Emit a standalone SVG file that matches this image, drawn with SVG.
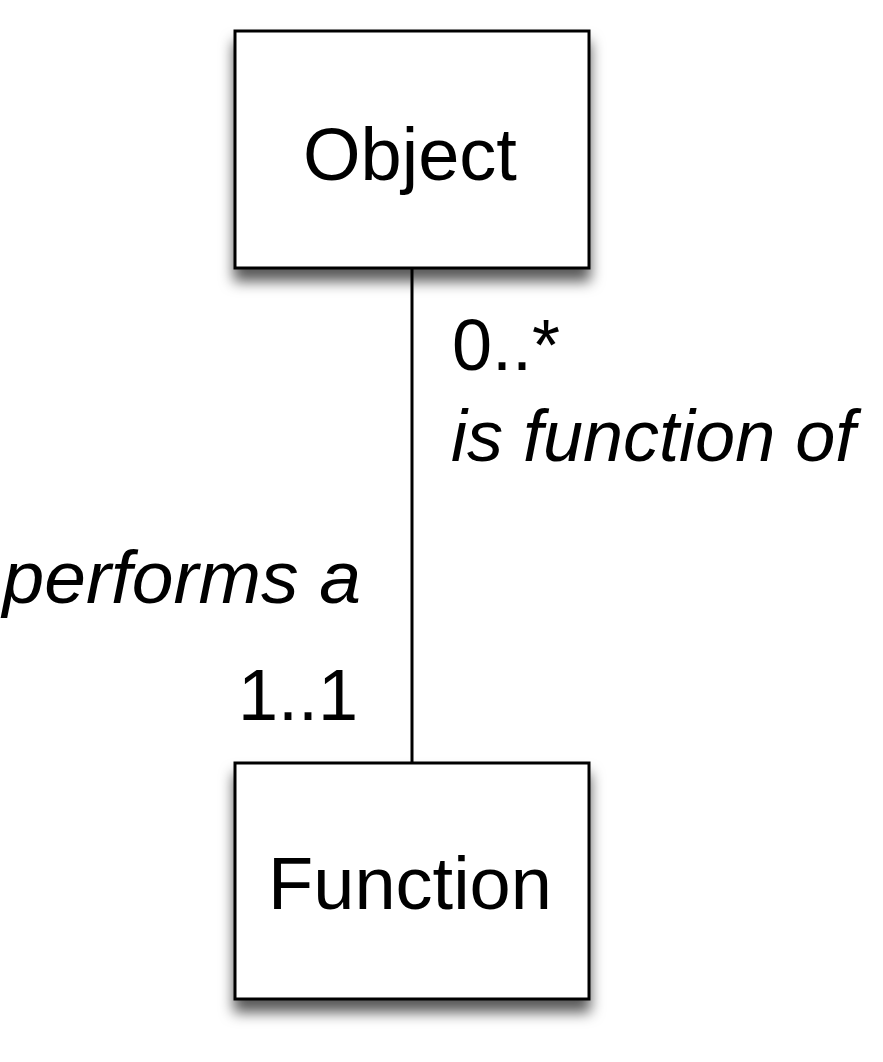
<svg xmlns="http://www.w3.org/2000/svg" width="883" height="1062" viewBox="0 0 883 1062">
<defs>
<filter id="sh" x="-20%" y="-20%" width="140%" height="150%">
<feDropShadow dx="0" dy="12" stdDeviation="7" flood-color="#000" flood-opacity="0.65"/>
</filter>
<style>
.box{fill:#fff;stroke:#000;stroke-width:3;filter:url(#sh)}
.lbl{font-family:"Liberation Sans",Arial,sans-serif;font-size:74px;fill:#000}
.t{font-family:"Liberation Sans",Arial,sans-serif;font-size:72px;fill:#000}
.i{font-style:italic}
.edge{stroke:#000;stroke-width:3;fill:none}
</style>
</defs>
<rect width="883" height="1062" fill="#fff"/>
<g id="connectors">
<line class="edge" x1="412" y1="268" x2="412" y2="763"/>
<text class="t" x="452" y="370">0..*</text>
<text class="t i" x="451" y="461">is function of</text>
<text class="t i" x="361" y="603" text-anchor="end" style="font-size:75px">performs a</text>
<text class="t" x="358" y="720" text-anchor="end">1..1</text>
</g>
<g id="object">
<rect class="box" x="235" y="31" width="354" height="237"/>
<text class="lbl" x="410" y="180" text-anchor="middle">Object</text>
</g>
<g id="function">
<rect class="box" x="235" y="763" width="354" height="236"/>
<text class="lbl" x="410" y="909" text-anchor="middle">Function</text>
</g>
</svg>
